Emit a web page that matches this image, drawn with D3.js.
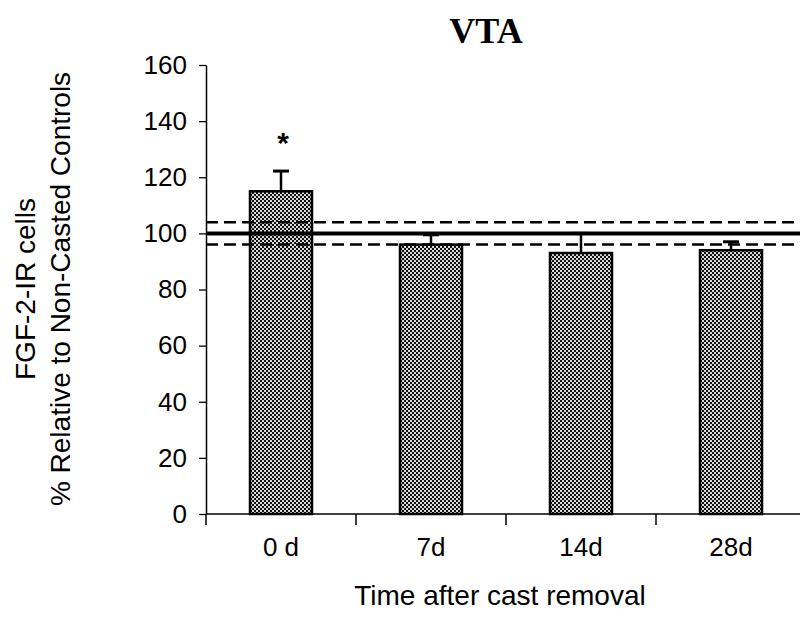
<!DOCTYPE html>
<html>
<head>
<meta charset="utf-8">
<script src="https://cdn.jsdelivr.net/npm/d3@7"></script>
<style>
  body { margin: 0; background: #fff; }
  svg { display: block; }
</style>
</head>
<body>
<svg id="chart" width="800" height="630"></svg>
<script>
// data
const categories = ["0 d", "7d", "14d", "28d"];
const values = [115, 96, 93, 94];
const errors = [7.2, 3.5, 7, 3];
const significant = [true, false, false, false];
const yTicks = [0, 20, 40, 60, 80, 100, 120, 140, 160];
const controlMean = 100;
const controlBand = [96, 104];

const svg = d3.select("#chart");
const plotLeft = 206, plotRight = 806, plotTop = 65, plotBottom = 514;

const x = d3.scaleBand().domain(categories).range([plotLeft, plotRight]).paddingInner(0).paddingOuter(0);
const y = d3.scaleLinear().domain([0, 160]).range([plotBottom, plotTop]);
const barW = 62;

// checkered fill like the printed figure
const defs = svg.append("defs");
const pat = defs.append("pattern").attr("id", "hatch")
  .attr("patternUnits", "userSpaceOnUse").attr("width", 4).attr("height", 4);
pat.append("rect").attr("width", 4).attr("height", 4).attr("fill", "#d8d8d8");
pat.append("rect").attr("x", 0).attr("y", 0).attr("width", 2).attr("height", 2).attr("fill", "#111");
pat.append("rect").attr("x", 2).attr("y", 2).attr("width", 2).attr("height", 2).attr("fill", "#111");

// title
svg.append("text").text("VTA")
  .attr("x", 486).attr("y", 43)
  .attr("text-anchor", "middle")
  .attr("font-family", "Liberation Serif, Times New Roman, serif")
  .attr("font-weight", "bold").attr("font-size", 36);

// y axis
const yAxis = svg.append("g").attr("transform", `translate(${plotLeft},0)`)
  .call(d3.axisLeft(y).tickValues(yTicks).tickSize(7).tickPadding(12).tickSizeOuter(0));
yAxis.select(".domain").attr("stroke", "#000").attr("stroke-width", 1.5);
yAxis.selectAll(".tick line").attr("stroke", "#000").attr("stroke-width", 1.3);
yAxis.selectAll(".tick text")
  .attr("font-family", "Liberation Sans, Arial, sans-serif").attr("font-size", 26).attr("fill", "#000");

// x axis: baseline, ticks between groups
svg.append("line")
  .attr("x1", plotLeft).attr("x2", 800).attr("y1", plotBottom).attr("y2", plotBottom)
  .attr("stroke", "#000").attr("stroke-width", 1.5);
const tickPos = [plotLeft].concat(categories.slice(1).map(c => x(c)));
svg.selectAll(".xtick").data(tickPos).join("line").attr("class", "xtick")
  .attr("x1", d => d).attr("x2", d => d)
  .attr("y1", plotBottom).attr("y2", plotBottom + 11)
  .attr("stroke", "#000").attr("stroke-width", 1.5);
svg.selectAll(".xlab").data(categories).join("text").attr("class", "xlab")
  .text(d => d)
  .attr("x", d => x(d) + x.bandwidth() / 2)
  .attr("y", 556)
  .attr("text-anchor", "middle")
  .attr("font-family", "Liberation Sans, Arial, sans-serif").attr("font-size", 26);

// bars
svg.selectAll(".bar").data(values).join("rect").attr("class", "bar")
  .attr("x", (d, i) => x(categories[i]) + (x.bandwidth() - barW) / 2)
  .attr("y", d => y(d))
  .attr("width", barW)
  .attr("height", d => y(0) - y(d))
  .attr("fill", "url(#hatch)")
  .attr("stroke", "#000").attr("stroke-width", 2.5);

// error bars
const eb = svg.selectAll(".err").data(values).join("g").attr("class", "err");
eb.append("line")
  .attr("x1", (d, i) => x(categories[i]) + x.bandwidth() / 2)
  .attr("x2", (d, i) => x(categories[i]) + x.bandwidth() / 2)
  .attr("y1", d => y(d))
  .attr("y2", (d, i) => y(d + errors[i]))
  .attr("stroke", "#000").attr("stroke-width", 2.5);
eb.append("line")
  .attr("x1", (d, i) => x(categories[i]) + x.bandwidth() / 2 - 8)
  .attr("x2", (d, i) => x(categories[i]) + x.bandwidth() / 2 + 8)
  .attr("y1", (d, i) => y(d + errors[i]))
  .attr("y2", (d, i) => y(d + errors[i]))
  .attr("stroke", "#000").attr("stroke-width", 3);

// significance marks
svg.selectAll(".sig").data(values).join("text").attr("class", "sig")
  .filter((d, i) => significant[i])
  .text("*")
  .attr("x", (d, i) => x(categories[i]) + x.bandwidth() / 2 + 2)
  .attr("y", (d, i) => y(d + errors[i]) - 18)
  .attr("text-anchor", "middle")
  .attr("font-family", "Liberation Sans, Arial, sans-serif")
  .attr("font-weight", "bold").attr("font-size", 30);

// control reference lines
svg.selectAll(".band").data(controlBand).join("line").attr("class", "band")
  .attr("x1", plotLeft).attr("x2", 800)
  .attr("y1", d => y(d)).attr("y2", d => y(d))
  .attr("stroke", "#000").attr("stroke-width", 2.5)
  .attr("stroke-dasharray", "12,6");
svg.append("line")
  .attr("x1", plotLeft).attr("x2", 800)
  .attr("y1", y(controlMean)).attr("y2", y(controlMean))
  .attr("stroke", "#000").attr("stroke-width", 4);

// axis titles
svg.append("text").text("Time after cast removal")
  .attr("x", 500).attr("y", 605)
  .attr("text-anchor", "middle")
  .attr("font-family", "Liberation Sans, Arial, sans-serif").attr("font-size", 28);

const yTitle = svg.append("text")
  .attr("transform", "translate(0,289) rotate(-90)")
  .attr("text-anchor", "middle")
  .attr("font-family", "Liberation Sans, Arial, sans-serif").attr("font-size", 28);
yTitle.append("tspan").attr("x", 0).attr("y", 35).text("FGF-2-IR cells");
yTitle.append("tspan").attr("x", 0).attr("y", 70).text("% Relative to Non-Casted Controls");
</script>
</body>
</html>
